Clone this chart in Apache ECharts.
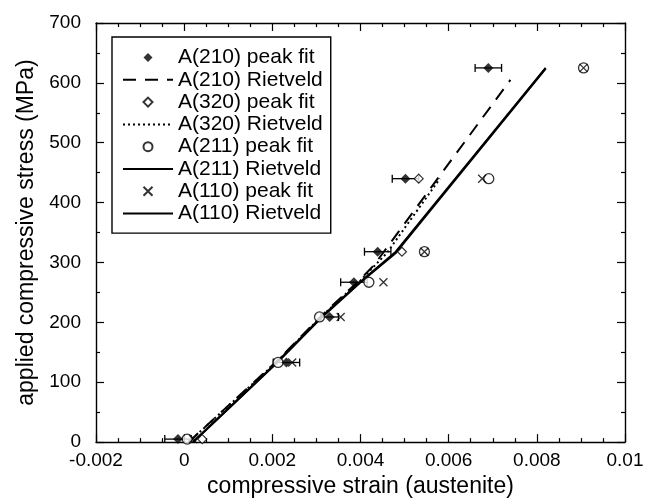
<!DOCTYPE html>
<html>
<head>
<meta charset="utf-8">
<script src="https://cdn.jsdelivr.net/npm/echarts@6/dist/echarts.min.js"></script>
<style>
html,body{margin:0;padding:0;background:#fff;}
#chart{width:652px;height:503px;}
</style>
</head>
<body>
<div id="chart"></div>
<script>
// ---- data ----
var xTicks = [-0.002, 0, 0.002, 0.004, 0.006, 0.008, 0.01];
var yTicks = [0, 100, 200, 300, 400, 500, 600, 700];

var a210FitX = [-0.00014, 0.00232, 0.0033, 0.00385, 0.00439, 0.00502, 0.0069];
var a210FitY = [5, 133, 209, 267, 318, 440, 625];
var a210FitErr = [0.0003, 0.0003, 0.0002, 0.0003, 0.0003, 0.0003, 0.0003];

var a320FitX = [0.00041, 0.00494, 0.00532];
var a320FitY = [5, 318, 440];

var a211FitX = [0.00007, 0.00213, 0.00307, 0.00419, 0.00545, 0.00691, 0.00906];
var a211FitY = [5, 133, 209, 267, 318, 440, 625];

var a110FitX = [0.0002, 0.00245, 0.00355, 0.00452, 0.00545, 0.00676, 0.00906];
var a110FitY = [5, 133, 209, 267, 318, 440, 625];

var a210RietX = [0.0001, 0.0021, 0.0031, 0.0040, 0.0043, 0.0074];
var a210RietY = [0, 135, 210, 272, 295, 605];

var a320RietX = [0.0001, 0.0021, 0.0031, 0.0040, 0.0046, 0.0058];
var a320RietY = [0, 134, 209, 270, 316, 440];

var a211RietX = [0.0002, 0.0021, 0.0031, 0.0040, 0.0048, 0.0082];
var a211RietY = [0, 133, 208, 268, 318, 625];

var a110RietX = [0.0002, 0.0021, 0.0031, 0.0040, 0.0048, 0.0082];
var a110RietY = [0, 132, 207, 267, 316, 624];

var legendNames = ['A(210) peak fit', 'A(210) Rietveld', 'A(320) peak fit', 'A(320) Rietveld',
                   'A(211) peak fit', 'A(211) Rietveld', 'A(110) peak fit', 'A(110) Rietveld'];

// ---- build ----
function pairs(xs, ys) { return xs.map(function (x, i) { return [x, ys[i]]; }); }
var FONT = '"Liberation Sans", Arial, Helvetica, sans-serif';
var crossPath = 'path://M0,0L10,10M0,10L10,0';
var diamondPath = 'path://M5,0L10,5L5,10L0,5Z';

var errData = a210FitX.map(function (x, i) { return [x, a210FitY[i], x - a210FitErr[i], x + a210FitErr[i]]; });

function fmtX(v) {
  if (Math.abs(v) < 1e-12) return '0';
  return (Math.round(v * 1000) / 1000).toString();
}

var legendData = legendNames.map(function (n) {
  if (n.indexOf('Rietveld') >= 0) return { name: n, itemStyle: { opacity: 0 } };
  if (n === 'A(210) peak fit' || n === 'A(320) peak fit') return { name: n, icon: diamondPath };
  return { name: n };
});

var baseAxisX = {
  type: 'value', min: -0.002, max: 0.01, interval: 0.002,
  splitLine: { show: false },
  axisLine: { show: true, onZero: false, lineStyle: { color: '#000', width: 1.4 } },
  axisTick: { show: true, inside: true, length: 8, lineStyle: { color: '#000', width: 1.2 } },
  minorTick: { show: true, splitNumber: 4, length: 4, lineStyle: { color: '#000', width: 1.2 } }
};
var baseAxisY = {
  type: 'value', min: 0, max: 700, interval: 100,
  splitLine: { show: false },
  axisLine: { show: true, onZero: false, lineStyle: { color: '#000', width: 1.4 } },
  axisTick: { show: true, inside: true, length: 8, lineStyle: { color: '#000', width: 1.2 } },
  minorTick: { show: true, splitNumber: 2, length: 4, lineStyle: { color: '#000', width: 1.2 } }
};

var option = {
  backgroundColor: '#fff',
  animation: false,
  grid: { left: 96, right: 27, top: 23, bottom: 59, containLabel: false },
  xAxis: [
    Object.assign({}, baseAxisX, {
      position: 'bottom',
      name: 'compressive strain (austenite)', nameLocation: 'middle', nameGap: 27,
      nameTextStyle: { color: '#000', fontSize: 23, fontFamily: FONT },
      axisLabel: { color: '#000', fontSize: 19, fontFamily: FONT, margin: 9,
        formatter: function (v) { return fmtX(v); } }
    }),
    Object.assign({}, baseAxisX, { position: 'top', axisLabel: { show: false } })
  ],
  yAxis: [
    Object.assign({}, baseAxisY, {
      position: 'left',
      name: 'applied compressive stress (MPa)', nameLocation: 'middle', nameGap: 53,
      nameTextStyle: { color: '#000', fontSize: 23, fontFamily: FONT },
      axisLabel: { color: '#000', fontSize: 19, fontFamily: FONT, margin: 15 }
    }),
    Object.assign({}, baseAxisY, { position: 'right', axisLabel: { show: false } })
  ],
  legend: {
    data: legendData,
    orient: 'vertical',
    left: 112, top: 37,
    padding: [10, 8, 9, 10],
    itemWidth: 50, itemHeight: 9, itemGap: 1.3,
    symbolKeepAspect: true,
    borderColor: '#000', borderWidth: 1.4, backgroundColor: '#fff',
    textStyle: { color: '#000', fontSize: 21, fontFamily: FONT }
  },
  series: [
    {
      name: 'A(210) Rietveld', type: 'line', data: pairs(a210RietX, a210RietY),
      showSymbol: false, symbol: 'none', z: 2,
      lineStyle: { color: '#000', width: 2, type: [13, 9] }, itemStyle: { color: '#000' }
    },
    {
      name: 'A(320) Rietveld', type: 'line', data: pairs(a320RietX, a320RietY),
      showSymbol: false, symbol: 'none', z: 2,
      lineStyle: { color: '#000', width: 2, type: [2, 3] }, itemStyle: { color: '#000' }
    },
    {
      name: 'A(211) Rietveld', type: 'line', data: pairs(a211RietX, a211RietY),
      showSymbol: false, symbol: 'none', z: 2,
      lineStyle: { color: '#000', width: 2, type: 'solid' }, itemStyle: { color: '#000' }
    },
    {
      name: 'A(110) Rietveld', type: 'line', data: pairs(a110RietX, a110RietY),
      showSymbol: false, symbol: 'none', z: 2,
      lineStyle: { color: '#000', width: 2.2, type: 'solid' }, itemStyle: { color: '#000' }
    },
    {
      name: 'A(210) error', type: 'custom', data: errData, z: 3,
      renderItem: function (params, api) {
        var lo = api.coord([api.value(2), api.value(1)]);
        var hi = api.coord([api.value(3), api.value(1)]);
        var st = { stroke: '#000', lineWidth: 1.3 };
        return { type: 'group', children: [
          { type: 'line', shape: { x1: lo[0], y1: lo[1], x2: hi[0], y2: hi[1] }, style: st },
          { type: 'line', shape: { x1: lo[0], y1: lo[1] - 4, x2: lo[0], y2: lo[1] + 4 }, style: st },
          { type: 'line', shape: { x1: hi[0], y1: hi[1] - 4, x2: hi[0], y2: hi[1] + 4 }, style: st }
        ] };
      }
    },
    {
      name: 'A(210) peak fit', type: 'scatter', data: pairs(a210FitX, a210FitY), z: 5,
      symbol: 'diamond', symbolSize: 10, itemStyle: { color: '#000' }
    },
    {
      name: 'A(320) peak fit', type: 'scatter', data: pairs(a320FitX, a320FitY), z: 4,
      symbol: 'diamond', symbolSize: 9, itemStyle: { color: '#fff', borderColor: '#000', borderWidth: 1.2 }
    },
    {
      name: 'A(211) peak fit', type: 'scatter', data: pairs(a211FitX, a211FitY), z: 4,
      symbol: 'circle', symbolSize: 10, itemStyle: { color: '#fff', borderColor: '#000', borderWidth: 1.3 }
    },
    {
      name: 'A(110) peak fit', type: 'scatter', data: pairs(a110FitX, a110FitY), z: 4,
      symbol: crossPath, symbolSize: 8, itemStyle: { color: 'rgba(0,0,0,0)', borderColor: '#000', borderWidth: 1.3 }
    }
  ]
};

var chart = echarts.init(document.getElementById('chart'), null, { renderer: 'canvas' });
chart.setOption(option);
</script>
</body>
</html>
